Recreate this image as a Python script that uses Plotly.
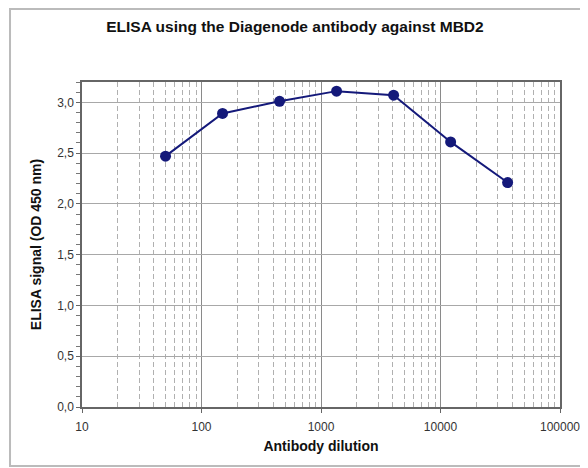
import plotly.graph_objects as go

dilution = [50, 150, 450, 1350, 4050, 12150, 36450]
signal = [2.47, 2.89, 3.01, 3.11, 3.07, 2.61, 2.21]

x_tickvals = [10, 100, 1000, 10000, 100000]
x_ticktext = ["10", "100", "1000", "10000", "100000"]
y_tickvals = [0, 0.5, 1.0, 1.5, 2.0, 2.5, 3.0]
y_ticktext = ["0,0", "0,5", "1,0", "1,5", "2,0", "2,5", "3,0"]

fig = go.Figure()
fig.add_trace(go.Scatter(
    x=dilution, y=signal, mode="lines+markers",
    line=dict(color="#14197a", width=2),
    marker=dict(color="#14197a", size=11),
    showlegend=False,
))

font_family = "Liberation Sans, Arial, sans-serif"
fig.update_layout(
    width=588, height=468,
    margin=dict(l=74, r=36, t=74, b=69),
    paper_bgcolor="white", plot_bgcolor="white",
    font=dict(family=font_family, color="#333333", size=12),
    title=dict(text="<b>ELISA using the Diagenode antibody against MBD2</b>",
               x=0.488, xref="container", xanchor="center", y=0.9594, yref="container", yanchor="middle",
               font=dict(size=15.5, color="#111111")),
    shapes=[dict(type="rect", xref="paper", yref="paper",
                 x0=-0.1506, x1=1.1, y0=-0.1815, y1=1.225,
                 line=dict(color="#bbbbbb", width=2), layer="below")],
)
fig.update_xaxes(
    type="log", range=[1, 5],
    tickvals=x_tickvals, ticktext=x_ticktext,
    showgrid=True, gridcolor="#8a8a8a", gridwidth=1,
    showline=True, linecolor="#666666", linewidth=1.5, mirror=True,
    ticks="outside", ticklen=4, tickcolor="#666666", ticklabelstandoff=4,
    minor=dict(dtick="D1", showgrid=True, gridcolor="#b0b0b0", griddash="5px,3px", gridwidth=1, ticks=""),
    title=dict(text="<b>Antibody dilution</b>", font=dict(size=14, color="#111111"), standoff=8),
    tickfont=dict(size=12, color="#333333"),
    zeroline=False,
)
fig.update_yaxes(
    range=[0, 3.2],
    tickvals=y_tickvals, ticktext=y_ticktext,
    showgrid=True, gridcolor="#a8a8a8", gridwidth=1,
    showline=True, linecolor="#666666", linewidth=1.5, mirror=True,
    ticks="outside", ticklen=4, tickcolor="#666666",
    minor=dict(dtick=0.1, ticks="outside", ticklen=4, tickcolor="#777777", showgrid=False),
    title=dict(text="<b>ELISA signal (OD 450 nm)</b>", font=dict(size=14, color="#111111"), standoff=12),
    tickfont=dict(size=12, color="#333333"),
    zeroline=False,
)

fig.write_html("out.html")
